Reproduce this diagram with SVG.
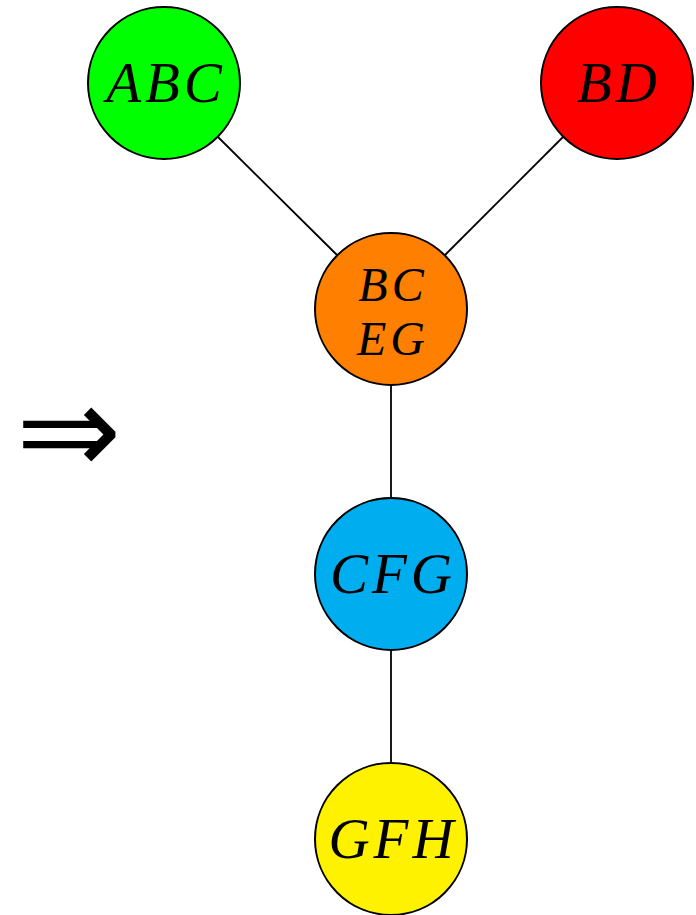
<svg xmlns="http://www.w3.org/2000/svg" width="696" height="915" viewBox="0 0 696 915">
<style>
.node circle{stroke:#000;stroke-width:2}
.node text{font-family:"Liberation Serif","Times New Roman",serif;font-style:italic;font-size:57px;text-anchor:middle;letter-spacing:4px}
.node text.two{font-size:48px}
.edges line{stroke:#000;stroke-width:1.8}
.sym{font-family:"DejaVu Sans",sans-serif;font-weight:200;font-size:126px}
</style>
<rect width="696" height="915" fill="#fff"/>
<g class="edges">
<line x1="218" y1="137" x2="337" y2="255"/>
<line x1="563" y1="137" x2="445" y2="255"/>
<line x1="391" y1="385" x2="391" y2="498"/>
<line x1="391" y1="650" x2="391" y2="763"/>
</g>
<g id="ABC" class="node"><circle cx="164" cy="83" r="76" fill="#00ff00"/><text x="166" y="102">ABC</text></g>
<g id="BD" class="node"><circle cx="617" cy="83" r="76" fill="#ff0000"/><text x="619" y="102">BD</text></g>
<g id="BCEG" class="node"><circle cx="391" cy="309" r="76" fill="#ff8000"/><text class="two" x="393" y="301">BC</text><text class="two" x="393" y="355">EG</text></g>
<g id="CFG" class="node"><circle cx="391" cy="574" r="76" fill="#00aeef"/><text x="393" y="593">CFG</text></g>
<g id="GFH" class="node"><circle cx="391" cy="839" r="76" fill="#fff200"/><text x="393" y="858">GFH</text></g>
<text class="sym" x="16" y="474">⇒</text>
</svg>
